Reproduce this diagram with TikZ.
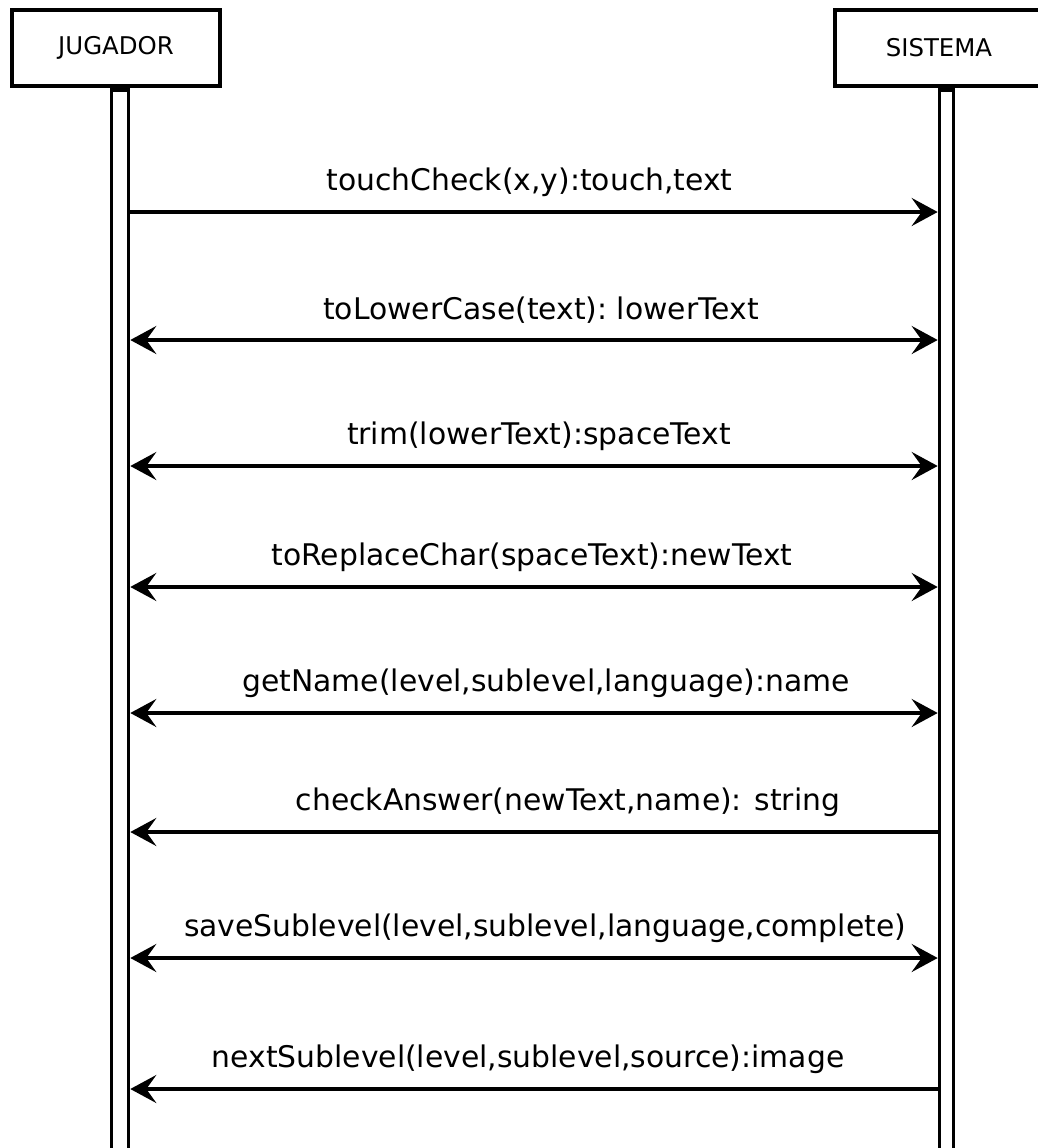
\documentclass[tikz,border=0pt]{standalone}
\usepackage{fontspec}
\setmainfont{DejaVu Sans}
\usetikzlibrary{arrows.meta,positioning}

\tikzset{
  >={Stealth[length=13pt,width=14pt,inset=5pt]},
  actor/.style={draw,line width=2.4pt,minimum width=104pt,minimum height=38pt,
    inner sep=0pt,font=\fontsize{12.2}{14}\selectfont},
  lifebar/.style={draw,line width=1.8pt,inner sep=0pt,minimum height=535pt},
  msg/.style={line width=1.7pt},
  lbl/.style={midway,yshift=15pt,font=\fontsize{14.9}{17}\selectfont}
}

\begin{document}
\begin{tikzpicture}[x=0.5pt,y=-0.5pt]
  \useasboundingbox (0,0) rectangle (1038,1148);
  \clip (0,0) rectangle (1038,1148);

  % actors and lifelines
  \node [actor] (jug) at (116,48) {JUGADOR};
  \node [actor] (sis) at (939,48) {SISTEMA};
  \node [lifebar,minimum width=8.5pt] (jbar) at (120,625) {};
  \node [lifebar,minimum width=7pt] (sbar) at (946.5,625) {};

  % message heights
  \coordinate (m1) at (0,212);
  \coordinate (m2) at (0,340);
  \coordinate (m3) at (0,466);
  \coordinate (m4) at (0,587);
  \coordinate (m5) at (0,713);
  \coordinate (m6) at (0,832);
  \coordinate (m7) at (0,958);
  \coordinate (m8) at (0,1089);

  \draw[msg,->] (jbar.east |- m1) -- node[lbl,xshift=-2.25pt] {touchCheck(x,y):touch,text} (sbar.west |- m1);
  \draw[msg,<->] (jbar.east |- m2) -- node[lbl,xshift=3.5pt] {toLowerCase(text):\ lowerText} (sbar.west |- m2);
  \draw[msg,<->] (jbar.east |- m3) -- node[lbl,xshift=2.5pt] {trim(lowerText):spaceText} (sbar.west |- m3);
  \draw[msg,<->] (jbar.east |- m4) -- node[lbl,xshift=-1pt] {toReplaceChar(spaceText):newText} (sbar.west |- m4);
  \draw[msg,<->] (jbar.east |- m5) -- node[lbl,xshift=6pt] {getName(level,sublevel,language):name} (sbar.west |- m5);
  \draw[msg,<-] (jbar.east |- m6) -- node[lbl,xshift=17pt] {checkAnswer(newText,name): string} (sbar.west |- m6);
  \draw[msg,<->] (jbar.east |- m7) -- node[lbl,xshift=5.5pt] {saveSublevel(level,sublevel,language,complete)} (sbar.west |- m7);
  \draw[msg,<-] (jbar.east |- m8) -- node[lbl,xshift=-3pt] {nextSublevel(level,sublevel,source):image} (sbar.west |- m8);
\end{tikzpicture}
\end{document}
